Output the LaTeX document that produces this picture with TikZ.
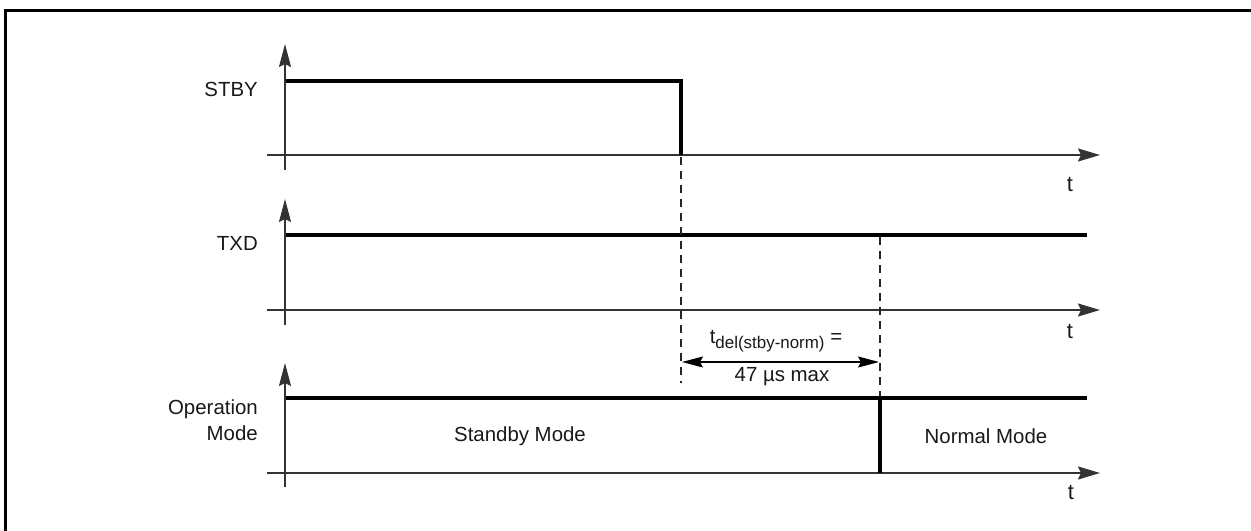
\documentclass[tikz,border=0pt]{standalone}
\usepackage{fontspec}
\setmainfont{Liberation Sans}
\usetikzlibrary{arrows.meta}
\begin{document}
\begin{tikzpicture}[x=1bp,y=-1bp,
  sig/.style={line width=4bp},
  axisline/.style={line width=1.8bp, draw=black!80},
  yaxis/.style={axisline, -{Stealth[length=23bp,width=12bp,inset=3bp]}},
  taxis/.style={axisline, -{Stealth[length=22bp,width=13bp,inset=3bp]}},
  guide/.style={line width=1.3bp, draw=black!85, dash pattern=on 8bp off 6bp},
  lbl/.style={font=\fontsize{20.5}{26}\selectfont, inner sep=0pt, text=black!90},
  tlbl/.style={font=\fontsize{22}{26}\selectfont, inner sep=0pt, text=black!90},
  frame/.style={line width=3bp},
  measure/.style={line width=1.3bp, {Stealth[length=21bp,width=11bp,inset=3bp]}-{Stealth[length=21bp,width=11bp,inset=3bp]}}
]
\useasboundingbox (0,0) rectangle (1251,531);
% frame
\coordinate (fTR) at (1251,11);
\coordinate (fTL) at (4,11);
\coordinate (fBL) at (5.5,531);
\draw[frame] (fTR) -- (fTL);
\draw[frame] (5.5,9.5) -- (fBL);

% ---------- STBY panel ----------
\coordinate (a1b) at (285,170);
\coordinate (a1t) at (285,44);
\coordinate (b1s) at (267,155);
\coordinate (b1e) at (1100,155);
\coordinate (s1a) at (286,81);
\coordinate (s1b) at (681,81);
\coordinate (s1c) at (681,155);
\draw[yaxis] (a1b) -- (a1t);
\draw[taxis] (b1s) -- (b1e);
\draw[sig] (s1a) -- (s1b) -- (s1c);
\node[lbl, anchor=east] (lstby) at (258,89) {STBY};
\node[tlbl] (t1) at (1070,185) {t};

% ---------- TXD panel ----------
\coordinate (a2b) at (285,325);
\coordinate (a2t) at (285,199);
\coordinate (b2s) at (267,310);
\coordinate (b2e) at (1100,310);
\coordinate (s2a) at (286,235);
\coordinate (s2b) at (1087,235);
\draw[yaxis] (a2b) -- (a2t);
\draw[taxis] (b2s) -- (b2e);
\draw[sig] (s2a) -- (s2b);
\node[lbl, anchor=east] (ltxd) at (258,243) {TXD};
\node[tlbl] (t2) at (1070,332) {t};

% ---------- Operation Mode panel ----------
\coordinate (a3b) at (285,487);
\coordinate (a3t) at (285,363);
\coordinate (b3s) at (267,473);
\coordinate (b3e) at (1100,473);
\coordinate (s3a) at (286,398);
\coordinate (s3b) at (1087,398);
\coordinate (m3t) at (880,398);
\coordinate (m3b) at (880,473);
\draw[yaxis] (a3b) -- (a3t);
\draw[taxis] (b3s) -- (b3e);
\draw[sig] (s3a) -- (s3b);
\draw[sig] (m3t) -- (m3b);
\node[lbl, anchor=east, align=right] (lop) at (258,420) {Operation\\Mode};
\node[lbl] (lstd) at (520,436) {Standby Mode};
\node[lbl] (lnorm) at (986,436) {Normal Mode};
\node[tlbl] (t3) at (1071,493) {t};

% ---------- guides and delay ----------
\coordinate (g1t) at (681,157);
\coordinate (g1b) at (681,383);
\coordinate (g2t) at (880,237);
\coordinate (g2b) at (880,396);
\draw[guide] (g1t) -- (g1b);
\draw[guide] (g2t) -- (g2b);
\coordinate (d1) at (682,362);
\coordinate (d2) at (879,362);
\draw[measure] (d1) -- (d2);
\node[lbl] (ldel) at (776,341) {t\raisebox{-5bp}{\fontsize{17}{17}\selectfont del(stby-norm)} =};
\node[lbl] (lmax) at (782,377) {47 µs max};
\end{tikzpicture}
\end{document}
